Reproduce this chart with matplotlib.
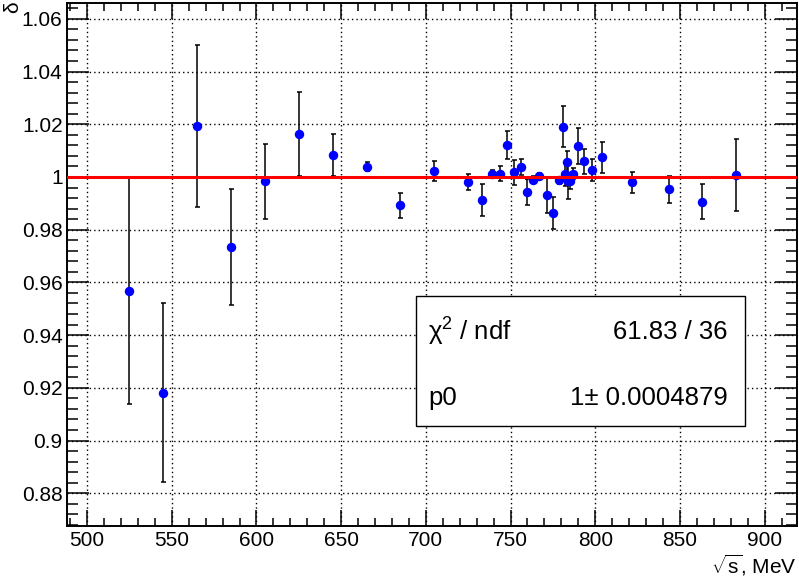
import numpy as np
import matplotlib
matplotlib.use("Agg")
import matplotlib.pyplot as plt
from matplotlib.patches import Rectangle
from matplotlib.ticker import MultipleLocator

plt.rcParams['font.family'] = ['Liberation Sans', 'DejaVu Sans']
plt.rcParams['mathtext.fontset'] = 'custom'
plt.rcParams['mathtext.rm'] = 'Liberation Sans'
plt.rcParams['mathtext.it'] = 'Liberation Sans'

# energy points (MeV), ratio delta and its errors
energy = [525, 545, 565, 585, 605, 625, 645, 665, 685, 705,
          725, 733, 739, 744, 748, 752, 756, 759.5, 763.5, 767,
          771.7, 775.3, 778.8, 780.8, 782, 783.5, 784, 785, 787, 789.7,
          793.4, 797.9, 804, 821.7, 843.7, 862.8, 883]
delta = [0.9567, 0.9181, 1.0194, 0.9734, 0.9983, 1.0163, 1.0083, 1.0039, 0.9892, 1.0023,
         0.9980, 0.9912, 1.0012, 1.0013, 1.0122, 1.0018, 1.0037, 0.9944, 0.9990, 1.0003,
         0.9930, 0.9864, 0.9987, 1.0191, 1.0010, 1.0055, 0.9985, 0.9984, 1.0013, 1.0117,
         1.0060, 1.0027, 1.0074, 0.9980, 0.9953, 0.9906, 1.0008]
delta_err = [0.043, 0.034, 0.0307, 0.022, 0.0142, 0.016, 0.008, 0.0017, 0.0047, 0.0038,
             0.003, 0.006, 0.0013, 0.003, 0.0053, 0.0048, 0.003, 0.005, 0.0012, 0.0012,
             0.0067, 0.006, 0.0012, 0.0078, 0.0045, 0.0045, 0.007, 0.003, 0.002, 0.0068,
             0.0048, 0.0043, 0.006, 0.0039, 0.0052, 0.0067, 0.0137]

p0 = 1.0
stat_labels = [r'χ$^{2}$ / ndf', 'p0']
stat_values = ['61.83 / 36', '1± 0.0004879']

fig = plt.figure(figsize=(7.99, 5.81), dpi=100)
ax = fig.add_axes([0.0835, 0.0952, 0.9140, 0.8996])

ax.grid(True, color='black', linestyle=(0, (1, 2.2)), linewidth=1.0)
ax.set_axisbelow(True)

ax.errorbar(energy, delta, yerr=delta_err, fmt='o', color='blue', markersize=5.8,
            ecolor='black', elinewidth=1.1, capsize=1.8, capthick=1.1, zorder=3)
ax.axhline(p0, color='red', linewidth=2.2, zorder=4)

ax.set_xlim(488.0, 919.1)
ax.set_ylim(0.8677, 1.066)

ax.xaxis.set_major_locator(MultipleLocator(50))
ax.xaxis.set_minor_locator(MultipleLocator(10))
ax.yaxis.set_major_locator(MultipleLocator(0.02))
ax.yaxis.set_minor_locator(MultipleLocator(0.004))
ax.yaxis.set_major_formatter(plt.FuncFormatter(lambda v, p: ('%.2f' % v).rstrip('0').rstrip('.')))

ax.tick_params(axis='both', which='both', direction='in', top=True, right=True,
               labelsize=15, width=1.1)
ax.tick_params(axis='x', which='major', length=11.5, pad=4)
ax.tick_params(axis='x', which='minor', length=5.8)
ax.tick_params(axis='y', which='major', length=15.5, pad=3)
ax.tick_params(axis='y', which='minor', length=7.8)
for s in ax.spines.values():
    s.set_linewidth(1.4)

fig.text(0.9975, 0.027, r'$\sqrt{s}$, MeV', ha='right', va='center', fontsize=15)
fig.text(0.016, 0.997, 'δ', ha='center', va='top', rotation=90, fontsize=15)

# fit statistics box
box = Rectangle((0.5203, 0.2668), 0.4121, 0.2237, transform=fig.transFigure,
                facecolor='white', edgecolor='black', linewidth=1.0, zorder=5)
fig.patches.append(box)
for i in range(2):
    yy = 0.4290 - i * 0.1145
    fig.text(0.5357, yy, stat_labels[i], ha='left', va='center', fontsize=18.5, zorder=6)
    fig.text(0.9111, yy, stat_values[i], ha='right', va='center', fontsize=18.5, zorder=6)

fig.savefig('out.png', dpi=100)
